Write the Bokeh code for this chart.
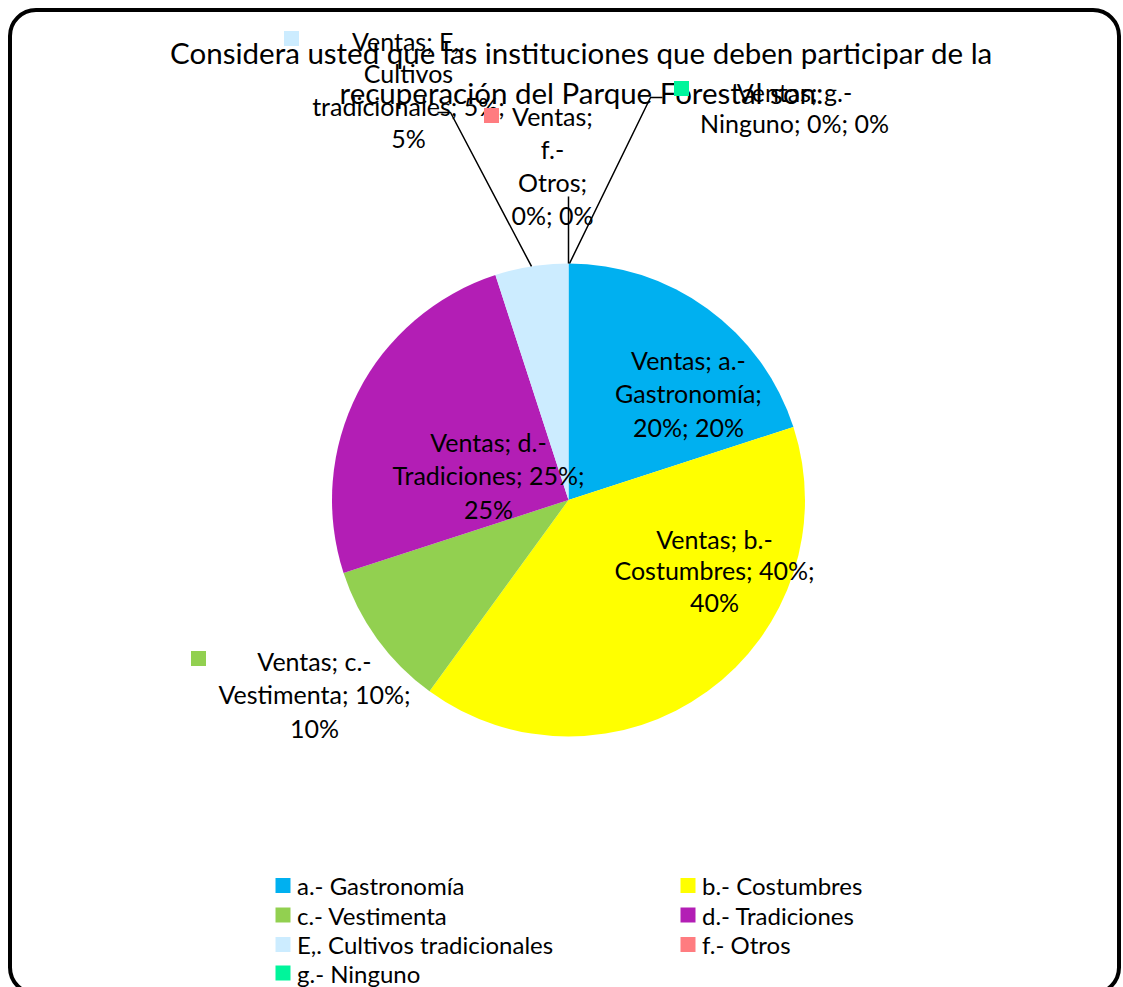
import math
from bokeh.plotting import figure
from bokeh.models import Range1d
from bokeh.core.properties import value
from bokeh.embed import file_html
from bokeh.resources import INLINE

# ---------------- data ----------------
title_lines = ["Considera usted que las instituciones que deben participar de la",
               "recuperación del Parque Forestal son:"]
categories = ["a.- Gastronomía", "b.- Costumbres", "c.- Vestimenta", "d.- Tradiciones",
              "E,. Cultivos tradicionales", "f.- Otros", "g.- Ninguno"]
values = [20, 40, 10, 25, 5, 0, 0]
series_name = "Ventas"
colors = ["#00B0F0", "#FFFF00", "#92D050", "#B31EB5", "#CCECFF", "#FF7C80", "#00F59B"]
# label line breaks (as wrapped in the original)
label_lines = [
    ["Ventas; a.-", "Gastronomía;", "20%; 20%"],
    ["Ventas; b.-", "Costumbres; 40%;", "40%"],
    ["Ventas; c.-", "Vestimenta; 10%;", "10%"],
    ["Ventas; d.-", "Tradiciones; 25%;", "25%"],
    ["Ventas; E,.", "Cultivos", "tradicionales; 5%;", "5%"],
    ["Ventas;", "f.-", "Otros;", "0%; 0%"],
    ["Ventas; g.-", "Ninguno; 0%; 0%"],
]

# ---------------- layout (screen px -> data) ----------------
W, H = 1123, 987
def X(sx): return sx
def Y(sy): return H - sy

FONT = value("Lato")

p = figure(width=W, height=H, output_backend="svg", toolbar_location=None,
           x_range=Range1d(0, W), y_range=Range1d(0, H), min_border=0)
p.axis.visible = False
p.grid.visible = False
p.outline_line_color = None
p.background_fill_color = "white"
p.border_fill_color = "white"

# rounded chart border
p.quad(left=X(9.5), right=X(1118.5), top=Y(9.5), bottom=Y(993), fill_color=None,
       line_color="black", line_width=4, border_radius=26)

# pie
cx, cy, r = X(568), Y(499.5), 236.5
total = sum(values)
cum = 0.0
starts, ends = [], []
for v in values:
    a0 = math.pi / 2 - 2 * math.pi * cum / total
    cum += v
    a1 = math.pi / 2 - 2 * math.pi * cum / total
    starts.append(a0)
    ends.append(a1)
idx = [i for i, v in enumerate(values) if v > 0]
p.wedge(x=cx, y=cy, radius=r,
        start_angle=[starts[i] for i in idx], end_angle=[ends[i] for i in idx],
        direction="clock", fill_color=[colors[i] for i in idx], line_color=None)

# leader lines (start on the pie edge at the slice's mid angle)
def edge(i):
    mid = (starts[i] + ends[i]) / 2
    return cx + r * math.cos(mid), cy + r * math.sin(mid)
ex, ey = edge(4)
p.line(x=[ex, X(450), X(437)], y=[ey, Y(112), Y(112)], line_color="black", line_width=1.5)
ex, ey = edge(5)
p.line(x=[ex, X(568)], y=[ey, Y(196)], line_color="black", line_width=1.5)
ex, ey = edge(6)
p.line(x=[ex + 1, X(650), X(662)], y=[ey, Y(97), Y(97)], line_color="black", line_width=1.5)

# title
for line, sy in zip(title_lines, [52, 92]):
    p.text(x=[X(581)], y=[Y(sy)], text=[line], text_font=FONT, text_font_size="29.5px",
           text_align="center", text_baseline="middle", text_color="black")

# data labels: (center x, first line y, line spacing)
label_pos = [
    (688, 359, 33.5),
    (714, 538, 31.5),
    (314, 660, 33.5),
    (488, 441, 33.5),
    (408, 40, 32.5),
    (552, 115, 33),
    (794, 91, 31),
]
for i, (lx, ly, dy) in enumerate(label_pos):
    for k, line in enumerate(label_lines[i]):
        p.text(x=[X(lx)], y=[Y(ly + k * dy)], text=[line], text_font=FONT,
               text_font_size="25px", text_align="center", text_baseline="middle",
               text_color="black")

# legend keys next to outside labels
key_pos = {2: (198, 658), 4: (291, 38), 5: (491, 115), 6: (681, 88)}
for i, (kx, ky) in key_pos.items():
    p.scatter(x=[X(kx)], y=[Y(ky)], marker="square", size=15, fill_color=colors[i],
              line_color=None)

# legend
leg_cols = [282.5, 687.5]
leg_rows = [885, 914.5, 944, 972.5]
for i, cat in enumerate(categories):
    col, row = i % 2, i // 2
    kx, ky = leg_cols[col], leg_rows[row]
    p.scatter(x=[X(kx)], y=[Y(ky)], marker="square", size=15, fill_color=colors[i],
              line_color=None)
    p.text(x=[X(kx + 14)], y=[Y(ky)], text=[cat], text_font=FONT, text_font_size="24px",
           text_align="left", text_baseline="middle", text_color="black")

open("out.html", "w").write(file_html(p, INLINE))
